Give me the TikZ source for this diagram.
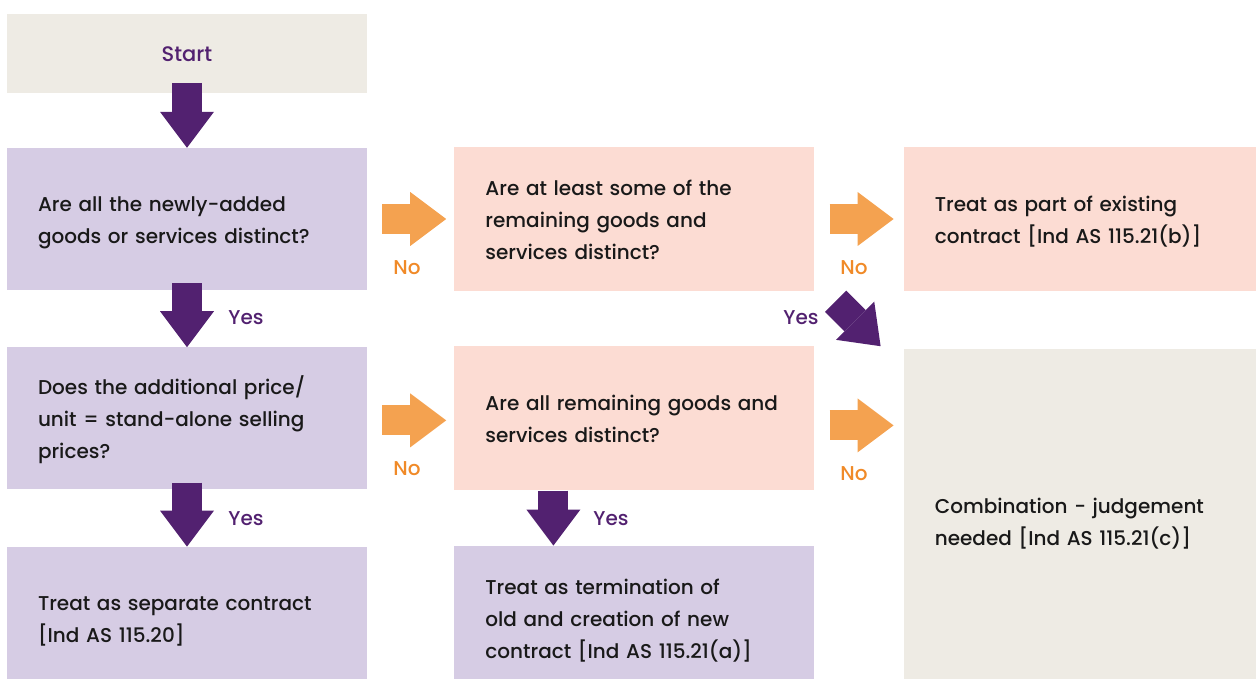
\documentclass[tikz,border=0pt]{standalone}
\usepackage{fontspec}
\setmainfont{Poppins Medium}
\definecolor{startfill}{RGB}{238, 235, 228}
\definecolor{askfill}{RGB}{214, 204, 228}
\definecolor{peachfill}{RGB}{252, 220, 211}
\definecolor{yespurple}{RGB}{82, 33, 112}
\definecolor{noorange}{RGB}{244, 162, 80}
\definecolor{nolabel}{RGB}{240, 138, 40}
\definecolor{inktext}{RGB}{25, 25, 25}
\usetikzlibrary{arrows.meta, positioning}

\newcommand{\linestrut}{\rule[-7.5pt]{0pt}{32pt}}

\tikzset{
  box/.style={rectangle, minimum width=360pt, minimum height=142pt,
    text width=298pt, inner xsep=31pt, inner ysep=0pt, align=left,
    font=\fontsize{20}{32}\selectfont, text=inktext,
    execute at begin node=\linestrut, execute at end node=\linestrut},
  yesarrow/.style={yespurple, line width=30pt,
    -{Triangle[length=36pt, width=54pt, line width=0pt]}},
  noarrow/.style={noorange, line width=30pt,
    -{Triangle[length=36pt, width=54pt, line width=0pt]}},
  yestext/.style={text=yespurple, font=\fontsize{20}{24}\selectfont},
  notext/.style={text=nolabel, font=\fontsize{20}{24}\selectfont}
}

\begin{document}
\begin{tikzpicture}[x=1pt, y=-1pt]
  \useasboundingbox (0,0) rectangle (1256,679);

  % Left column
  \node[box, fill=askfill] (q1) at (187,219) {Are all the newly-added\\ goods or services distinct?};
  \node[box, fill=startfill, minimum height=79pt, align=center, text=yespurple,
        font=\fontsize{21}{32}\selectfont] (start) [above=55pt of q1] {Start};
  \node[box, fill=askfill] (q2) [below=57pt of q1] {Does the additional price/\\ unit = stand-alone selling\\ prices?};
  \node[box, fill=askfill] (sep) [below=57pt of q2] {Treat as separate contract\\ {[Ind AS 115.20]}};

  % Middle column
  \node[box, fill=peachfill, minimum height=144pt] (qa) [right=87pt of q1] {Are at least some of the\\ remaining goods and\\ services distinct?};
  \node[box, fill=peachfill, minimum height=144pt] (qb) [right=87pt of q2] {Are all remaining goods and\\ services distinct?};
  \node[box, fill=askfill, minimum height=144pt] (term) [right=87pt of sep] {Treat as termination of\\ old and creation of new\\ contract {[Ind AS 115.21(a)]}};

  % Right column
  \node[box, fill=peachfill, minimum height=144pt] (part) [right=89pt of qa] {Treat as part of existing\\ contract {[Ind AS 115.21(b)]}};
  \node[box, fill=startfill, minimum height=343pt] (comb) [below=58pt of part] {Combination - judgement\\ needed {[Ind AS 115.21(c)]}};

  % Yes arrows
  \draw[yesarrow] ([shift={(0,-10)}]start.south) -- (q1.north);
  \draw[yesarrow] ([shift={(0,-7)}]q1.south) -- (q2.north);
  \draw[yesarrow] ([shift={(0,-7)}]q2.south) -- (sep.north);
  \draw[yesarrow] ([shift={(-81,0)}]qb.south) -- ([shift={(-81,0)}]term.north);
  \draw[yesarrow] ([shift={(21,10)}]qa.south east) -- ([shift={(-23,-3)}]comb.north west);

  % No arrows
  \draw[noarrow] ([shift={(15,0)}]q1.east) -- ([shift={(-8,0)}]qa.west);
  \draw[noarrow] ([shift={(15,2)}]q2.east) -- ([shift={(-8,2)}]qb.west);
  \draw[noarrow] ([shift={(15,0)}]qa.east) -- ([shift={(-10,0)}]part.west);
  \draw[noarrow] ([shift={(15,7)}]qb.east) -- ([shift={(79,7)}]qb.east);

  % Labels
  \node[notext] (no1) at (407,268) {No};
  \node[notext] (no2) at (854,268) {No};
  \node[notext] (no3) at (407,469) {No};
  \node[notext] (no4) at (854,474) {No};
  \node[yestext] (yes1) at (246,318) {Yes};
  \node[yestext] (yes2) at (246,519) {Yes};
  \node[yestext] (yes3) at (611,519) {Yes};
  \node[yestext] (yes4) at (801,318) {Yes};
\end{tikzpicture}
\end{document}
